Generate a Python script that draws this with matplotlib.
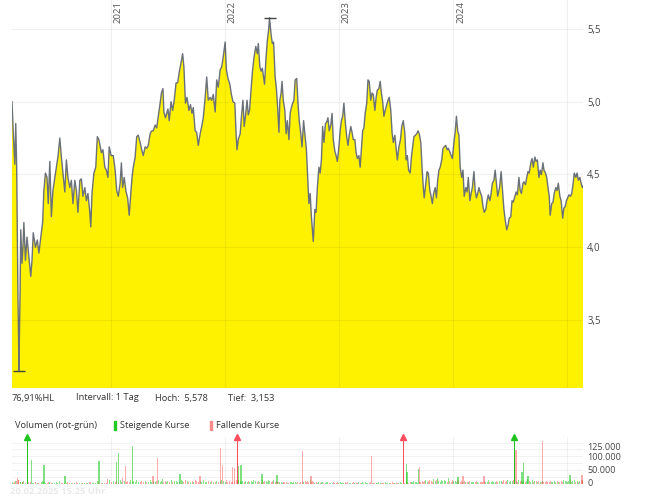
import numpy as np
import pandas as pd
import matplotlib
matplotlib.use("Agg")
import matplotlib.pyplot as plt
from matplotlib.patches import Rectangle
from matplotlib.ticker import FuncFormatter

plt.rcParams["font.family"] = ["Open Sans", "DejaVu Sans"]

START = pd.Timestamp("2020-02-20")
END = pd.Timestamp("2025-02-20")

# days since START, closing price (EUR)
DAYS = [0, 5, 9, 12, 15, 19, 21, 22, 26, 28, 32, 35, 38, 43, 48, 53, 60, 64, 68, 75,
        81, 86, 94, 98, 102, 107, 112, 116, 121, 126, 131, 137, 142, 147, 153, 158, 163, 169, 174, 179,
        185, 190, 195, 201, 206, 211, 217, 222, 227, 233, 238, 243, 249, 252, 256, 262, 268, 273, 278, 286,
        291, 297, 302, 307,
        311, 317, 324, 330, 335, 340, 346, 350, 354, 359, 365, 370, 375, 380, 384, 388, 394, 399, 404, 410,
        415, 420, 426, 431, 436, 442, 447, 452, 458, 463, 468, 474, 478, 483, 486, 491, 495, 499, 503, 509,
        514, 519, 525, 530, 535, 541, 546, 550, 555, 560, 566, 571, 576, 580, 586, 591, 596, 602, 607, 612,
        618,
        623, 628, 634, 639, 644, 650, 655, 660, 666, 671, 676, 682, 686, 691, 697, 702, 707, 713, 717, 720,
        724, 730, 735, 739, 743, 747, 752, 756, 760, 765, 769, 774, 780, 785, 788, 793, 797, 801, 805, 808,
        813, 817, 821, 824, 829, 833, 837, 842, 846, 850, 854, 857, 861, 864, 868, 873, 877, 881, 886, 890,
        894, 898, 902, 906, 911, 915, 919, 924,
        928, 933, 938, 942, 946, 950, 954, 958, 961, 964, 969, 973, 977, 982, 986, 990, 994, 998, 1003, 1007,
        1011, 1015, 1020, 1024, 1028, 1033, 1037, 1041, 1046, 1050, 1054, 1058, 1062, 1066, 1071, 1075, 1079, 1084, 1088, 1092,
        1097, 1101, 1105, 1110, 1114, 1118, 1122, 1126, 1130, 1135, 1139, 1143, 1148, 1152, 1156, 1161, 1165, 1169, 1174, 1178,
        1182, 1186, 1190, 1194, 1199, 1203, 1207, 1212, 1216, 1220, 1225, 1229, 1233, 1238, 1243,
        1247, 1252, 1257, 1261, 1265, 1269, 1274, 1278, 1282, 1286, 1291, 1295, 1299, 1303, 1308, 1312, 1316, 1319, 1324, 1328,
        1332, 1337, 1341, 1345, 1349, 1354, 1358, 1362, 1366, 1370, 1375, 1379, 1383, 1388, 1392, 1396, 1400, 1405, 1409, 1414,
        1418, 1422, 1426, 1430, 1434, 1439, 1443, 1447, 1452, 1456, 1460, 1465, 1469, 1473, 1478, 1482, 1486, 1490, 1494, 1498,
        1503, 1507, 1511, 1516, 1520, 1524, 1529, 1533, 1537, 1542, 1546, 1550, 1554,
        1560, 1565, 1570, 1574, 1578, 1583, 1587, 1591, 1596, 1600, 1604, 1609, 1613, 1617, 1622, 1626, 1630, 1635, 1638, 1643,
        1647, 1651, 1655, 1660, 1664, 1668, 1673, 1677, 1681, 1686, 1690, 1694, 1699, 1702, 1707, 1711, 1715, 1719, 1722, 1727,
        1731, 1735, 1740, 1744, 1748, 1753, 1757, 1762, 1766, 1770, 1774, 1778, 1782, 1787, 1791, 1795, 1799, 1804, 1808, 1812,
        1817, 1821, 1825, 1827]

PRICE = [5.00, 4.74, 4.57, 4.85, 4.55, 3.66, 3.38, 3.153, 3.71, 4.12, 3.89, 4.00, 4.17, 3.91, 4.07, 3.96, 3.80, 3.91, 4.10, 4.00,
         4.05, 3.96, 4.10, 4.17, 4.39, 4.51, 4.48, 4.30, 4.59, 4.21, 4.39, 4.48, 4.55, 4.62, 4.75, 4.62, 4.51, 4.38, 4.60, 4.48,
         4.41, 4.46, 4.30, 4.46, 4.39, 4.24, 4.46, 4.47, 4.35, 4.41, 4.32, 4.37, 4.24, 4.14, 4.37, 4.51, 4.55, 4.76, 4.74, 4.65,
         4.67, 4.55, 4.53, 4.48,
         4.69, 4.63, 4.63, 4.53, 4.39, 4.35, 4.44, 4.58, 4.41, 4.48, 4.38, 4.34, 4.22, 4.37, 4.48, 4.55, 4.62, 4.76, 4.77, 4.72,
         4.67, 4.63, 4.69, 4.68, 4.70, 4.78, 4.80, 4.80, 4.84, 4.82, 4.90, 4.99, 5.06, 5.09, 4.93, 4.89, 4.92, 4.95, 4.87, 5.00,
         4.94, 5.01, 5.13, 5.13, 5.20, 5.27, 5.33, 5.24, 4.99, 5.03, 4.94, 4.98, 4.92, 4.96, 4.80, 4.79, 4.70, 4.78, 4.83, 4.89,
         5.03,
         5.17, 5.01, 5.03, 5.01, 5.05, 4.93, 5.15, 5.10, 5.22, 5.24, 5.31, 5.41, 5.22, 5.16, 5.12, 5.05, 5.00, 4.99, 4.78, 4.67,
         4.74, 4.78, 4.92, 5.01, 4.83, 4.90, 5.01, 4.91, 4.94, 5.08, 5.20, 5.30, 5.38, 5.33, 5.40, 5.24, 5.21, 5.23, 5.17, 5.12,
         5.31, 5.42, 5.49, 5.578, 5.46, 5.40, 5.41, 5.17, 5.09, 4.96, 4.79, 5.01, 5.06, 5.14, 5.01, 4.94, 4.78, 4.87, 4.74, 4.92,
         4.96, 4.99, 5.01, 5.15, 5.16, 4.99, 4.87, 4.78,
         4.69, 4.87, 4.76, 4.67, 4.48, 4.30, 4.37, 4.21, 4.12, 4.04, 4.26, 4.24, 4.41, 4.55, 4.51, 4.60, 4.83, 4.72, 4.85, 4.86,
         4.89, 4.80, 4.84, 4.92, 4.74, 4.66, 4.63, 4.59, 4.69, 4.80, 4.87, 4.90, 4.99, 4.87, 4.76, 4.70, 4.77, 4.83, 4.79, 4.74,
         4.74, 4.65, 4.61, 4.63, 4.55, 4.67, 4.80, 4.82, 4.92, 4.99, 5.15, 5.14, 5.01, 5.06, 5.05, 4.94, 5.03, 5.08, 5.09, 5.14,
         5.06, 5.00, 4.90, 4.94, 4.98, 5.01, 5.03, 4.94, 4.79, 4.72, 4.77, 4.68, 4.60, 4.69, 4.74,
         4.83, 4.87, 4.78, 4.60, 4.63, 4.53, 4.51, 4.62, 4.69, 4.76, 4.77, 4.78, 4.80, 4.78, 4.72, 4.55, 4.41, 4.34, 4.44, 4.52,
         4.51, 4.39, 4.35, 4.30, 4.37, 4.41, 4.34, 4.46, 4.53, 4.55, 4.60, 4.68, 4.69, 4.70, 4.67, 4.68, 4.66, 4.63, 4.61, 4.72,
         4.79, 4.90, 4.80, 4.77, 4.55, 4.48, 4.53, 4.35, 4.41, 4.38, 4.48, 4.32, 4.37, 4.41, 4.52, 4.39, 4.34, 4.37, 4.41, 4.38,
         4.35, 4.28, 4.24, 4.26, 4.32, 4.36, 4.32, 4.37, 4.44, 4.46, 4.53, 4.44, 4.35,
         4.41, 4.52, 4.37, 4.26, 4.19, 4.12, 4.15, 4.20, 4.21, 4.32, 4.31, 4.35, 4.38, 4.36, 4.48, 4.39, 4.37, 4.44, 4.45, 4.43,
         4.48, 4.52, 4.51, 4.58, 4.61, 4.55, 4.62, 4.59, 4.60, 4.48, 4.53, 4.50, 4.58, 4.53, 4.51, 4.48, 4.41, 4.35, 4.22, 4.30,
         4.31, 4.37, 4.41, 4.39, 4.44, 4.35, 4.32, 4.20, 4.27, 4.28, 4.32, 4.34, 4.36, 4.35, 4.37, 4.43, 4.51, 4.48, 4.51, 4.46,
         4.48, 4.44, 4.41, 4.42]

# everyday volume (thousand shares) at the same dates
VOL_K = [8, 5, 6, 10, 12, 20, 15, 14, 9, 8, 6, 7, 12, 5, 4, 6, 8, 5, 4, 6,
         5, 4, 7, 10, 6, 5, 4, 8, 6, 5, 4, 3, 6, 5, 12, 4, 3, 5, 4, 6,
         3, 4, 5, 3, 6, 4, 3, 5, 4, 3, 5, 4, 6, 8, 5, 4, 3, 10, 6, 4,
         5, 3, 4, 18,
         14, 8, 10, 6, 12, 9, 15, 8, 22, 10, 7, 12, 9, 16, 8, 10, 6, 14, 9, 7,
         12, 8, 10, 6, 9, 13, 7, 11, 8, 10, 14, 9, 12, 18, 8, 10, 7, 11, 9, 15,
         8, 10, 12, 9, 7, 13, 11, 8, 14, 10, 9, 7, 12, 8, 16, 10, 9, 11, 7, 13,
         9,
         8, 10, 7, 12, 9, 6, 11, 8, 10, 14, 12, 9, 13, 8, 10, 7, 9, 12, 16, 20,
         14, 10, 8, 12, 9, 11, 7, 10, 8, 12, 9, 14, 10, 8, 11, 7, 9, 13, 8, 10,
         12, 9, 15, 11, 8, 10, 13, 9, 11, 7, 6, 9, 8, 5, 7, 6, 8, 5, 4, 6,
         7, 5, 8, 6, 4, 7, 5, 6,
         6, 8, 10, 7, 12, 9, 14, 8, 11, 7, 5, 6, 4, 7, 5, 8, 6, 4, 5, 7,
         6, 4, 5, 3, 6, 4, 5, 7, 4, 6, 5, 3, 4, 6, 5, 7, 4, 3, 5, 6,
         4, 5, 3, 6, 4, 5, 7, 4, 6, 5, 3, 4, 6, 5, 4, 3, 5, 4, 6, 3,
         5, 4, 3, 6, 4, 5, 3, 4, 6, 5, 4, 3, 5, 4, 6,
         5, 7, 4, 8, 6, 5, 9, 7, 6, 10, 8, 6, 5, 7, 9, 12, 8, 10, 14, 9,
         11, 15, 12, 9, 18, 10, 13, 20, 11, 9, 14, 10, 16, 12, 9, 22, 11, 8, 13, 10,
         12, 9, 15, 11, 8, 10, 7, 12, 9, 6, 8, 11, 7, 9, 6, 8, 10, 7, 5, 9,
         6, 8, 12, 7, 9, 14, 8, 6, 10, 7, 9, 11, 8,
         10, 12, 9, 14, 8, 11, 15, 9, 12, 10, 13, 8, 11, 9, 16, 10, 12, 8, 14, 9,
         11, 18, 10, 9, 13, 8, 11, 10, 7, 12, 9, 8, 10, 7, 9, 11, 6, 8, 10, 7,
         9, 12, 8, 10, 7, 9, 11, 8, 14, 10, 12, 9, 11, 16, 8, 10, 13, 9, 11, 8,
         12, 14, 10, 15]

# volume peaks (days since START, thousand shares, 1 = rising price)
SPIKE_DAYS = [49, 63, 103, 170, 279, 335, 340, 363, 386, 451, 465, 538, 602, 668, 674, 706, 711, 721, 725, 733,
              800, 848, 930, 957, 1151, 1252, 1263, 1264, 1301, 1303, 1427, 1443, 1510, 1607, 1613, 1632, 1636, 1651,
              1698, 1786, 1824]
SPIKE_K = [260, 87, 69, 30, 83, 81, 113, 65, 138, 30, 94, 35, 30, 132, 69, 62, 58, 240, 65, 69,
           36, 33, 120, 28, 101, 230, 72, 42, 55, 62, 25, 30, 28, 250, 123, 42, 76, 30,
           156, 32, 34]
SPIKE_UP = [1, 1, 1, 1, 1, 1, 1, 0, 1, 0, 0, 1, 0, 0, 0, 0, 0, 0, 1, 1,
            1, 1, 0, 0, 0, 0, 1, 1, 1, 0, 1, 0, 0, 1, 0, 1, 1, 1,
            0, 1, 0]

YEARS = ["2021", "2022", "2023", "2024", "2025"]
PRICE_TICKS = [3.5, 4.0, 4.5, 5.0, 5.5]
VOL_TICKS = [0, 50000, 100000, 125000]
VOL_LABEL_NUDGE = [0, 0, -0.8, 1.2]   # points, keeps 100.000 / 125.000 apart
VOL_MAX = 170000

dates = START + pd.to_timedelta(DAYS, unit="D")
price = np.array(PRICE)
hi, lo = price.max(), price.min()
hl_pct = (hi - lo) / lo * 100

def de(v, nd):
    return f"{v:.{nd}f}".replace(".", ",")

GREY = "#444444"
FS = 6.4

fig = plt.figure(figsize=(6.69, 5.0), dpi=100)
ax = fig.add_axes([12 / 669, 1 - 388 / 500, 571 / 669, 388 / 500])
ax.fill_between(dates, price, 0, color="#fff200", lw=0, zorder=1)
ax.plot(dates, price, color="#6b7178", lw=1.0, zorder=2)
ax.set_xlim(START, END)
ax.set_ylim(3.033, 5.699)
for y in PRICE_TICKS:
    ax.axhline(y, color="black", alpha=0.06, lw=0.8, zorder=3)
for yr in YEARS:
    d = pd.Timestamp(f"{yr}-01-01")
    ax.axvline(d, color="black", alpha=0.06, lw=0.8, zorder=3)
    if d < END - pd.Timedelta(days=60):
        ax.annotate(yr, xy=(d, 1), xycoords=("data", "axes fraction"), xytext=(2.2, -1),
                    textcoords="offset points", rotation=90, ha="left", va="top",
                    fontsize=FS + 0.4, color="#555555")
# high / low markers
ax.plot(dates[price.argmax()], hi, marker="_", ms=8, mew=1.0, color=GREY, zorder=4)
ax.plot(dates[price.argmin()], lo, marker="_", ms=8, mew=1.0, color=GREY, zorder=4)
ax.yaxis.tick_right()
ax.set_yticks(PRICE_TICKS)
ax.yaxis.set_major_formatter(FuncFormatter(lambda v, _: de(v, 1)))
ax.tick_params(axis="y", length=0, pad=3, labelsize=FS + 0.5, labelcolor=GREY)
ax.set_xticks([])
for s in ax.spines.values():
    s.set_visible(False)

# info line
ty = 1 - 398 / 500
for x, t in [(12, f"{de(hl_pct, 2)}%HL"), (76, "Intervall: 1 Tag"),
             (155, f"Hoch:  {de(hi, 3)}"), (228, f"Tief:  {de(lo, 3)}")]:
    fig.text(x / 669, ty, t, fontsize=FS + 0.3, color="#333333", va="center", ha="left")

# volume legend
ly = 1 - 425 / 500
fig.text(15 / 669, ly, "Volumen (rot-grün)", fontsize=FS + 0.3, color="#333333", va="center")
fig.add_artist(Rectangle((113.5 / 669, ly - 4.5 / 500), 2.2 / 669, 9 / 500, color="#22cc22",
                         transform=fig.transFigure))
fig.text(119.5 / 669, ly, "Steigende Kurse", fontsize=FS + 0.3, color="#333333", va="center")
fig.add_artist(Rectangle((210 / 669, ly - 4.5 / 500), 2.2 / 669, 9 / 500, color="#ff8a8a",
                         transform=fig.transFigure))
fig.text(216 / 669, ly, "Fallende Kurse", fontsize=FS + 0.3, color="#333333", va="center")

# volume panel
vax = fig.add_axes([12 / 669, 1 - 484 / 500, 571 / 669, 47 / 500])
vol = np.array(VOL_K) * 1000
up = np.r_[True, np.diff(price) >= 0]
vax.bar(dates[up], vol[up], width=3.2, color="#2bcc2b", alpha=0.55, lw=0)
vax.bar(dates[~up], vol[~up], width=3.2, color="#ff3b3b", alpha=0.45, lw=0)
sd = START + pd.to_timedelta(SPIKE_DAYS, unit="D")
sv = np.minimum(np.array(SPIKE_K) * 1000, VOL_MAX)
su = np.array(SPIKE_UP, bool)
clip = np.array(SPIKE_K) * 1000 > VOL_MAX
vax.bar(sd[su & ~clip], sv[su & ~clip], width=4.5, color="#2bcc2b", alpha=0.6, lw=0)
vax.bar(sd[~su & ~clip], sv[~su & ~clip], width=4.5, color="#ff4a4a", alpha=0.45, lw=0)
for d, u in zip(sd[clip], su[clip]):
    c = "#1fc41f" if u else "#ff4d5e"
    vax.bar(d, VOL_MAX, width=4.5, color=c, lw=0)
    vax.plot(d, VOL_MAX, marker="^", ms=4.5, color=c, clip_on=False, zorder=5)
vax.set_xlim(START, END)
vax.set_ylim(0, VOL_MAX)
for y in range(0, VOL_MAX, 25000):
    vax.axhline(y, color="black", alpha=0.05, lw=0.8, zorder=0)
for yr in YEARS:
    vax.axvline(pd.Timestamp(f"{yr}-01-01"), color="black", alpha=0.05, lw=0.8, zorder=0)
for v, dy in zip(VOL_TICKS, VOL_LABEL_NUDGE):
    vax.annotate(f"{v:,}".replace(",", "."), xy=(1, v), xycoords=("axes fraction", "data"),
                 xytext=(3, dy), textcoords="offset points", ha="left", va="center",
                 fontsize=FS + 0.1, color=GREY, annotation_clip=False)
vax.set_yticks([])
vax.set_xticks([])
for s in vax.spines.values():
    s.set_visible(False)

fig.text(10 / 669, 1 - 491 / 500, "20.02.2025 15:25 Uhr", fontsize=FS + 0.4, color="#eaeaea",
         weight="bold", va="center")

fig.savefig("out.png", dpi=100)
